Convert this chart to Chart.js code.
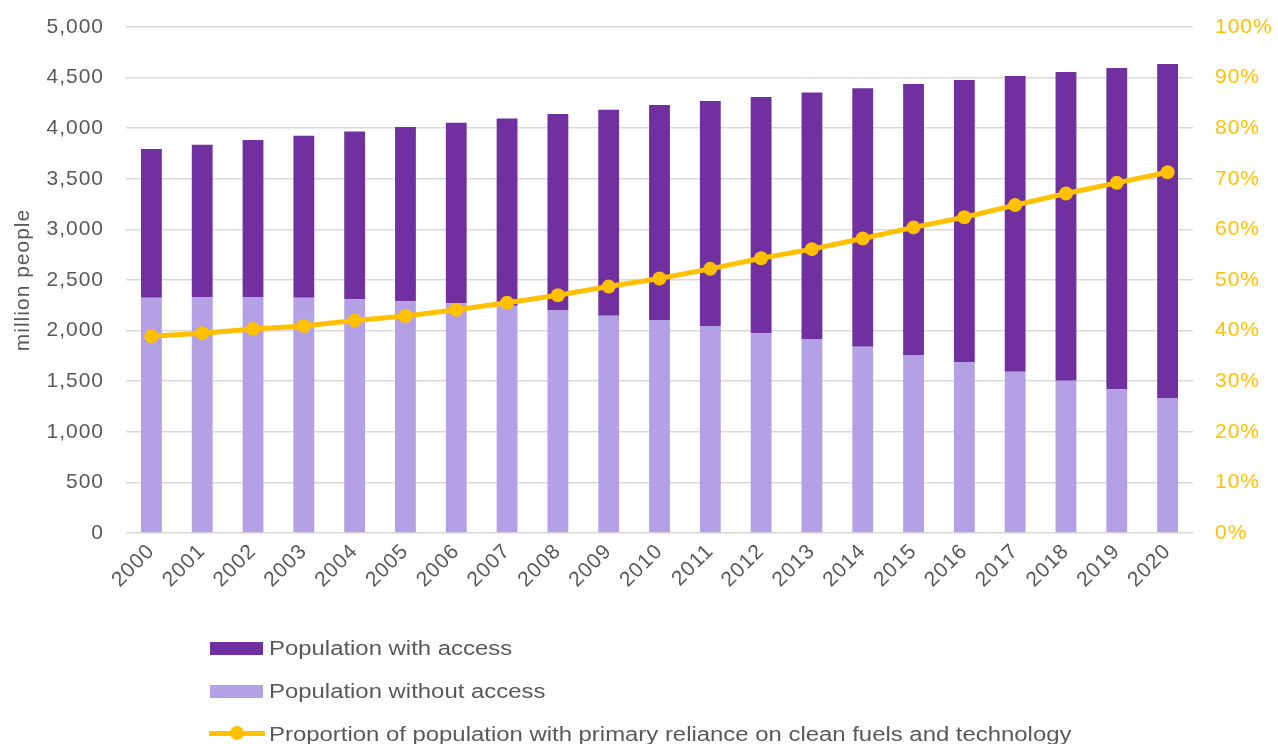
<!DOCTYPE html>
<html>
<head>
<meta charset="utf-8">
<script src="https://cdn.jsdelivr.net/npm/chart.js@4/dist/chart.umd.min.js"></script>
<style>
  html, body { margin: 0; padding: 0; background: #ffffff; }
  #wrap { position: relative; width: 1278px; height: 744px; overflow: hidden; }
  #legend { position: absolute; left: 0; top: 0; width: 1278px; height: 744px; pointer-events: none;
            font-family: "Liberation Sans", Arial, sans-serif; font-size: 20px; color: #595959; }
  .lg-text { position: absolute; left: 269px; height: 24px; line-height: 24px; white-space: nowrap;
             transform: scaleX(1.195); transform-origin: 0 50%; }
  .lg-box { position: absolute; left: 210px; width: 53px; height: 13px; }
  .lg-line { position: absolute; left: 209px; width: 56px; height: 5px; background: #FFC000; }
  .lg-dot { position: absolute; width: 14px; height: 14px; border-radius: 50%; background: #FFC000; }
</style>
</head>
<body>
<div id="wrap">
  <canvas id="chart" width="1278" height="744"></canvas>
  <div id="legend">
    <div class="lg-box" style="top:642px;background:#7030A0"></div>
    <div class="lg-text" style="top:636px">Population with access</div>
    <div class="lg-box" style="top:685px;background:#B4A0E4"></div>
    <div class="lg-text" style="top:679px">Population without access</div>
    <div class="lg-line" style="top:731px"></div>
    <div class="lg-dot" style="left:230px;top:726px"></div>
    <div class="lg-text" style="top:722px">Proportion of population with primary reliance on clean fuels and technology</div>
  </div>
</div>
<script>
// Years on the category axis
const years = ['2000','2001','2002','2003','2004','2005','2006','2007','2008','2009','2010',
               '2011','2012','2013','2014','2015','2016','2017','2018','2019','2020'];

// Total population (million people) and the part without access
const totalPopulation = [3794, 3837, 3883, 3926, 3968, 4012, 4055, 4095, 4140, 4183, 4229,
                         4269, 4308, 4354, 4394, 4437, 4476, 4516, 4555, 4595, 4634];
const withoutAccess = [2325, 2332, 2332, 2325, 2309, 2292, 2270, 2246, 2204, 2147, 2105,
                       2045, 1973, 1917, 1841, 1759, 1690, 1594, 1505, 1420, 1334];
const withAccess = totalPopulation.map((t, i) => t - withoutAccess[i]);

// Share of population relying primarily on clean fuels and technology (%)
const cleanShare = [38.9, 39.5, 40.3, 40.9, 42.0, 42.9, 44.1, 45.5, 47.0, 48.7, 50.3,
                    52.2, 54.3, 56.1, 58.2, 60.4, 62.4, 64.8, 67.1, 69.2, 71.3];

const leftTicks = [0, 500, 1000, 1500, 2000, 2500, 3000, 3500, 4000, 4500, 5000];
const rightTicks = [0, 10, 20, 30, 40, 50, 60, 70, 80, 90, 100];

const FONT = '"Liberation Sans", Arial, sans-serif';
const GREY = '#595959';
const FONT_SIZE = 21;

// Slightly wider text spacing for all canvas labels
const spacingPlugin = {
  id: 'spacing',
  beforeUpdate(chart) { chart.ctx.letterSpacing = '1px'; },
  beforeDraw(chart) { chart.ctx.letterSpacing = '1px'; }
};

// Value axes: fixed width, and keep label padding from pushing the plot area
function fitValueAxis(width) {
  return s => { s.width = width; s.paddingTop = 10; s.paddingBottom = 10; };
}

new Chart(document.getElementById('chart'), {
  data: {
    labels: years,
    datasets: [
      {
        type: 'line',
        label: 'Proportion of population with primary reliance on clean fuels and technology',
        data: cleanShare,
        yAxisID: 'y1',
        borderColor: '#FFC000',
        backgroundColor: '#FFC000',
        borderWidth: 5,
        pointRadius: 7,
        pointBorderWidth: 0,
        pointBackgroundColor: '#FFC000',
        tension: 0,
        order: 0
      },
      {
        type: 'bar',
        label: 'Population without access',
        data: withoutAccess,
        yAxisID: 'y',
        backgroundColor: '#B4A0E4',
        barPercentage: 0.41,
        categoryPercentage: 1,
        order: 1
      },
      {
        type: 'bar',
        label: 'Population with access',
        data: withAccess,
        yAxisID: 'y',
        backgroundColor: '#7030A0',
        barPercentage: 0.41,
        categoryPercentage: 1,
        order: 1
      }
    ]
  },
  options: {
    responsive: false,
    animation: false,
    layout: { padding: { top: 27, left: 0, right: 0, bottom: 0 } },
    plugins: { legend: { display: false }, tooltip: { enabled: false } },
    scales: {
      x: {
        stacked: true,
        grid: { display: false, drawTicks: false },
        border: { display: false },
        ticks: {
          autoSkip: false, maxRotation: 45, minRotation: 45, padding: 6,
          color: GREY, font: { family: FONT, size: FONT_SIZE }
        },
        afterFit(s) { s.height = 211; }
      },
      y: {
        stacked: true,
        position: 'left',
        min: 0, max: 5000,
        afterBuildTicks(s) { s.ticks = leftTicks.map(v => ({ value: v })); },
        grid: { color: '#D9D9D9', lineWidth: 1.5, drawTicks: false },
        border: { display: false },
        ticks: {
          padding: 22, color: GREY, font: { family: FONT, size: FONT_SIZE },
          callback: v => v.toLocaleString('en-US')
        },
        title: {
          display: true, text: 'million people', color: GREY,
          font: { family: FONT, size: FONT_SIZE }, padding: { top: 11, bottom: 0 }
        },
        afterFit: fitValueAxis(126)
      },
      y1: {
        position: 'right',
        min: 0, max: 100,
        afterBuildTicks(s) { s.ticks = rightTicks.map(v => ({ value: v })); },
        grid: { drawOnChartArea: false, drawTicks: false },
        border: { display: false },
        ticks: {
          padding: 22, color: '#FFC000', font: { family: FONT, size: FONT_SIZE },
          callback: v => v + '%'
        },
        afterFit: fitValueAxis(85)
      }
    }
  },
  plugins: [spacingPlugin]
});
</script>
</body>
</html>
